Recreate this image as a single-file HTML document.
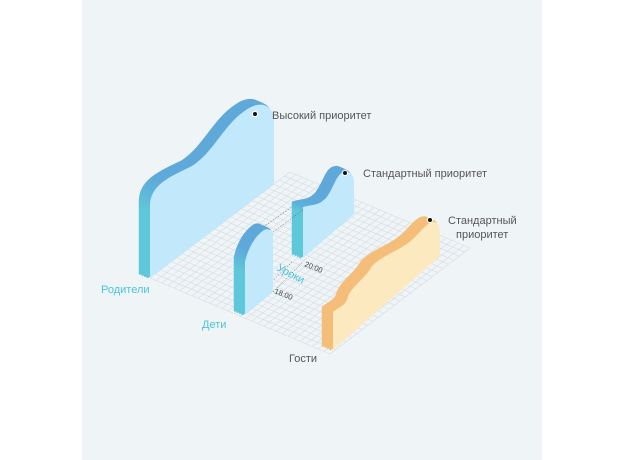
<!DOCTYPE html>
<html><head><meta charset="utf-8"><style>
html,body{margin:0;padding:0;background:#fff;}
svg{display:block;font-family:"Liberation Sans","DejaVu Sans",sans-serif;}
</style></head><body>
<svg id="s" width="624" height="460" viewBox="0 0 624 460" xmlns="http://www.w3.org/2000/svg">
<defs>
<path id="pP" d="M150,278 L150,206 C150,184 172,176 192,166 C214,152 224,124 246,110 C260,100 274,104 274,122 L274,184 Z"/>
<path id="pS" d="M303,258 L303,207 C314,204 318,206 326,198 C334,188 336,174 344,172 C350,170 354,176 354,182 L354,214 Z"/>
<path id="pK" d="M245,315 L245,262 C248,248 255,236 264,230 C268,228 273,230 273,234 L273,292 Z"/>
<path id="pG" d="M333,350 L333,312 C340,306 346,306 348,296 C354,284 364,280 372,266 C384,254 402,250 414,238 C422,230 428,222 434,222 C439,222 440,228 440,232 L440,256 Z"/>
<linearGradient id="gP" gradientUnits="userSpaceOnUse" x1="0" y1="100" x2="0" y2="280"><stop offset="0.45" stop-color="#5ea9da"/><stop offset="0.62" stop-color="#5ec7d9"/></linearGradient>
<linearGradient id="gS" gradientUnits="userSpaceOnUse" x1="0" y1="165" x2="0" y2="262"><stop offset="0.4" stop-color="#5ea9da"/><stop offset="0.5" stop-color="#5ec7d9"/></linearGradient>
<linearGradient id="gK" gradientUnits="userSpaceOnUse" x1="0" y1="222" x2="0" y2="315"><stop offset="0.3" stop-color="#5ea9da"/><stop offset="0.55" stop-color="#5ec7d9"/></linearGradient>
</defs>
<rect x="0" y="0" width="624" height="460" fill="#fff"/>
<rect x="82" y="0" width="460" height="460" fill="#eff4f7"/>
<g id="grid" stroke="#d6dce1" stroke-width="0.6"></g>

<g fill="url(#gP)" stroke="url(#gP)" stroke-width="2.5" stroke-linejoin="round">
<use href="#pP" transform="translate(-10,-4.5)"/><use href="#pP" transform="translate(-7.5,-3.4)"/><use href="#pP" transform="translate(-5,-2.3)"/><use href="#pP" transform="translate(-2.5,-1.1)"/>
</g>
<use href="#pP" fill="#c2e8fb"/>

<g fill="url(#gS)" stroke="url(#gS)" stroke-width="2.5" stroke-linejoin="round">
<use href="#pS" transform="translate(-10,-4.5)"/><use href="#pS" transform="translate(-7.5,-3.4)"/><use href="#pS" transform="translate(-5,-2.3)"/><use href="#pS" transform="translate(-2.5,-1.1)"/>
</g>
<use href="#pS" fill="#c2e8fb"/>

<g stroke="#556" stroke-width="0.5" stroke-dasharray="1.5,1.5" fill="none">
<path d="M263,227 L292,207 M273,232 L303,210 M263,227 L263,290 M263,290 L292,262 M273,292 L303,262"/>
</g>

<g fill="url(#gK)" stroke="url(#gK)" stroke-width="2.5" stroke-linejoin="round">
<use href="#pK" transform="translate(-10,-4.5)"/><use href="#pK" transform="translate(-7.5,-3.4)"/><use href="#pK" transform="translate(-5,-2.3)"/><use href="#pK" transform="translate(-2.5,-1.1)"/>
</g>
<use href="#pK" fill="#c2e8fb"/>

<g fill="#f5bd7a" stroke="#f5bd7a" stroke-width="2.5" stroke-linejoin="round">
<use href="#pG" transform="translate(-10,-4.5)"/><use href="#pG" transform="translate(-7.5,-3.4)"/><use href="#pG" transform="translate(-5,-2.3)"/><use href="#pG" transform="translate(-2.5,-1.1)"/>
</g>
<use href="#pG" fill="#fde9bf"/>

<circle cx="255" cy="114" r="3.2" fill="#fff" opacity="0.8"/><circle cx="255" cy="114" r="2" fill="#111"/>
<circle cx="345" cy="173" r="3.2" fill="#fff" opacity="0.8"/><circle cx="345" cy="173" r="2" fill="#111"/>
<circle cx="430" cy="220" r="3.2" fill="#fff" opacity="0.8"/><circle cx="430" cy="220" r="2" fill="#111"/>

<g font-size="11" fill="#555">
<text x="272" y="119">Высокий приоритет</text>
<text x="363" y="177">Стандартный приоритет</text>
<text x="448" y="224">Стандартный</text>
<text x="456" y="238">приоритет</text>
<text x="289" y="362">Гости</text>
</g>
<g font-size="11" fill="#4cc3d9">
<text x="101" y="293">Родители</text>
<text x="202" y="328">Дети</text>
<text x="276" y="270" transform="rotate(28 276 270)">Уроки</text>
</g>
<g font-size="7.5" fill="#444">
<text x="304" y="266" transform="rotate(22 304 266)">20:00</text>
<text x="274" y="293" transform="rotate(22 274 293)">18:00</text>
</g>
</svg>
<script>
(function(){
var g=document.getElementById('grid'),ns='http://www.w3.org/2000/svg';
var A=[150,278],U=[180,76],V=[140,-106];var n=30,m=26;
function L(x1,y1,x2,y2){var l=document.createElementNS(ns,'line');l.setAttribute('x1',x1);l.setAttribute('y1',y1);l.setAttribute('x2',x2);l.setAttribute('y2',y2);g.appendChild(l);}
for(var i=0;i<=m;i++){var t=i/m;var sx=A[0]+V[0]*t,sy=A[1]+V[1]*t;L(sx,sy,sx+U[0],sy+U[1]);}
for(var j=0;j<=n;j++){var t=j/n;var sx=A[0]+U[0]*t,sy=A[1]+U[1]*t;L(sx,sy,sx+V[0],sy+V[1]);}
})();
</script>
</body></html>
